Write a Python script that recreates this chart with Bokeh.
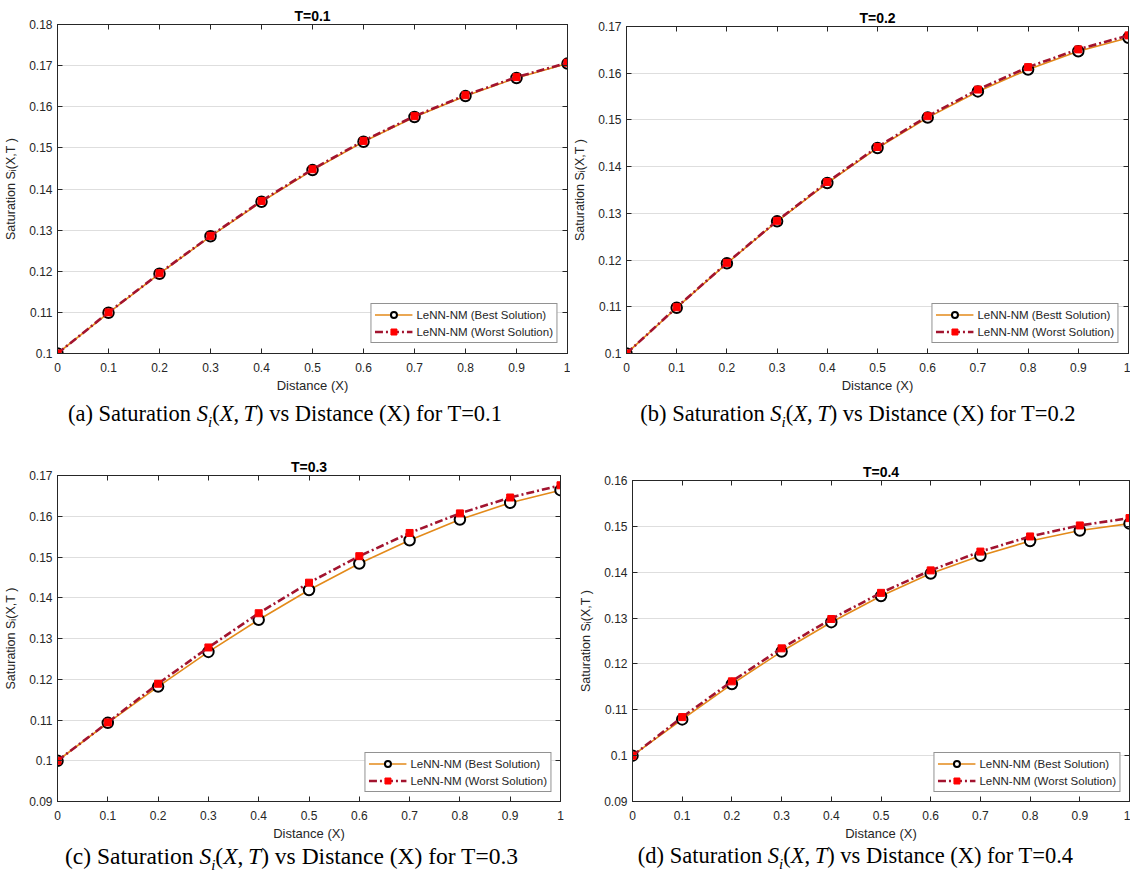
from bokeh.plotting import figure
from bokeh.models import Range1d, FixedTicker, PrintfTickFormatter, LinearAxis, Legend, LegendItem, Div
from bokeh.layouts import row, column
from bokeh.embed import file_html
from bokeh.resources import INLINE

# ---------------- data ----------------
distance = [0.0, 0.1, 0.2, 0.3, 0.4, 0.5, 0.6, 0.7, 0.8, 0.9, 1.0]
x_ticks = [0.0, 0.1, 0.2, 0.3, 0.4, 0.5, 0.6, 0.7, 0.8, 0.9, 1.0]

best_t01 = [0.1000, 0.1099, 0.1194, 0.1285, 0.1369, 0.1446, 0.1515, 0.1575, 0.1626, 0.1670, 0.1705]
worst_t01 = [0.1000, 0.1100, 0.1195, 0.1286, 0.1371, 0.1448, 0.1517, 0.1577, 0.1628, 0.1672, 0.1707]
best_t02 = [0.1000, 0.1098, 0.1193, 0.1283, 0.1365, 0.1440, 0.1505, 0.1561, 0.1608, 0.1647, 0.1676]
worst_t02 = [0.1000, 0.1099, 0.1194, 0.1284, 0.1367, 0.1442, 0.1508, 0.1565, 0.1613, 0.1651, 0.1681]
best_t03 = [0.1000, 0.1093, 0.1182, 0.1267, 0.1346, 0.1419, 0.1484, 0.1541, 0.1592, 0.1633, 0.1664]
worst_t03 = [0.1000, 0.1094, 0.1189, 0.1278, 0.1362, 0.1437, 0.1502, 0.1559, 0.1607, 0.1646, 0.1676]
best_t04 = [0.1000, 0.1079, 0.1156, 0.1227, 0.1291, 0.1348, 0.1397, 0.1436, 0.1468, 0.1491, 0.1506]
worst_t04 = [0.1000, 0.1084, 0.1162, 0.1234, 0.1298, 0.1355, 0.1404, 0.1445, 0.1478, 0.1502, 0.1518]

yticks_a = [0.10, 0.11, 0.12, 0.13, 0.14, 0.15, 0.16, 0.17, 0.18]
yticks_b = [0.10, 0.11, 0.12, 0.13, 0.14, 0.15, 0.16, 0.17]
yticks_c = [0.09, 0.10, 0.11, 0.12, 0.13, 0.14, 0.15, 0.16, 0.17]
yticks_d = [0.09, 0.10, 0.11, 0.12, 0.13, 0.14, 0.15, 0.16]

titles = ["T=0.1", "T=0.2", "T=0.3", "T=0.4"]
best_labels = ["LeNN-NM (Best Solution)", "LeNN-NM (Bestt Solution)",
               "LeNN-NM (Best Solution)", "LeNN-NM (Best Solution)"]
worst_label = "LeNN-NM (Worst Solution)"
x_label = "Distance (X)"
y_label = "Saturation S\u1d62(X,T )"
captions = [
    ("(a)", "T=0.1"), ("(b)", "T=0.2"), ("(c)", "T=0.3"), ("(d)", "T=0.4"),
]

# ---------------- style ----------------
ORANGE = "#E38A1A"
DARKRED = "#A2142F"
RED = "#FF0000"
AX = "#262626"
SANS = "Liberation Sans"


def style_axis(ax, ticks, show_labels):
    ax.ticker = FixedTicker(ticks=ticks)
    ax.formatter = PrintfTickFormatter(format="%g")
    ax.major_tick_in = 5
    ax.major_tick_out = 0
    ax.minor_tick_line_color = None
    ax.axis_line_color = AX
    ax.major_tick_line_color = AX
    if show_labels:
        ax.major_label_text_font = SANS
        ax.major_label_text_font_size = "12px"
        ax.major_label_text_color = AX
        ax.axis_label_text_font = SANS
        ax.axis_label_text_font_style = "normal"
        ax.axis_label_text_color = AX
    else:
        ax.major_label_text_font_size = "1px"
        ax.major_label_text_color = None
        ax.major_label_standoff = 0


def make_panel(title, best, worst, ylo, yhi, yticks, best_label,
               width, height, bl, br, bt, bb, legend_margin):
    p = figure(width=width, height=height, output_backend="svg", toolbar_location=None,
               x_range=Range1d(0, 1), y_range=Range1d(ylo, yhi),
               min_border_left=bl, min_border_right=br, min_border_top=bt, min_border_bottom=bb)
    p.title.text = title
    p.title.align = "center"
    p.title.text_font = SANS
    p.title.text_font_size = "14px"
    p.title.text_font_style = "bold"
    p.title.text_color = "#000000"
    p.title.standoff = 2
    p.outline_line_color = AX
    p.outline_line_alpha = 1.0
    p.background_fill_color = "white"
    p.border_fill_color = "white"

    p.xgrid.visible = False
    p.ygrid.ticker = FixedTicker(ticks=yticks)
    p.ygrid.grid_line_color = "#dedede"
    p.ygrid.grid_line_width = 1

    style_axis(p.xaxis[0], x_ticks, True)
    style_axis(p.yaxis[0], yticks, True)
    p.xaxis[0].axis_label = x_label
    p.xaxis[0].axis_label_text_font_size = "13px"
    p.xaxis[0].major_label_standoff = 9
    p.xaxis[0].axis_label_standoff = 3
    p.yaxis[0].axis_label = y_label
    p.yaxis[0].axis_label_text_font_size = "12.5px"
    p.yaxis[0].major_label_standoff = 5
    p.yaxis[0].axis_label_standoff = 8

    top = LinearAxis()
    style_axis(top, x_ticks, False)
    p.add_layout(top, "above")
    right = LinearAxis()
    style_axis(right, yticks, False)
    p.add_layout(right, "right")

    l1 = p.line(distance, best, line_color=ORANGE, line_width=1.6)
    c1 = p.scatter(distance, best, marker="circle", size=10.5, line_color="black",
                   line_width=2, fill_color="white")
    l2 = p.line(distance, worst, line_color=DARKRED, line_width=2.6, line_dash="8 3 2 3")
    s2 = p.scatter(distance, worst, marker="square", size=7, line_color=RED,
                   fill_color=RED)

    legend = Legend(items=[LegendItem(label=best_label, renderers=[l1, c1]),
                           LegendItem(label=worst_label, renderers=[l2, s2])],
                    location="bottom_right")
    legend.margin = legend_margin
    legend.padding = 3
    legend.spacing = 2
    legend.glyph_width = 38
    legend.glyph_height = 15
    legend.label_height = 15
    legend.label_standoff = 4
    legend.label_text_font = SANS
    legend.label_text_font_size = "11.5px"
    legend.label_text_color = AX
    legend.border_line_color = AX
    legend.border_line_width = 1
    legend.background_fill_color = "white"
    legend.background_fill_alpha = 1.0
    p.add_layout(legend)
    return p


def caption(tag, tval, width, height, pad_top, pad_left, fsize):
    html = (f'<div style="font-family: \'Liberation Serif\', serif; font-size: {fsize}px; '
            'line-height: 26px; color: #000; text-align: center; white-space: nowrap; '
            f'width: {width}px; padding-top: {pad_top}px; padding-left: {pad_left}px; box-sizing: border-box;">'
            f'{tag} Saturation <i>S<sub style="font-size:15px">i</sub></i>(<i>X</i>,&thinsp;<i>T</i>) '
            f'vs Distance (X) for {tval}</div>')
    return Div(text=html, width=width, height=height, margin=(0, 0, 0, 0))


pa = make_panel(titles[0], best_t01, worst_t01, 0.10, 0.18, yticks_a, best_labels[0],
                570, 395, 57, 3, 24, 41, 10)
pb = make_panel(titles[1], best_t02, worst_t02, 0.10, 0.17, yticks_b, best_labels[1],
                560, 395, 56, 2, 26, 42, 10)
pc = make_panel(titles[2], best_t03, worst_t03, 0.09, 0.17, yticks_c, best_labels[2],
                575, 393, 57, 15, 25, 41, 9)
pd = make_panel(titles[3], best_t04, worst_t04, 0.09, 0.16, yticks_d, best_labels[3],
                555, 393, 57, 1, 30, 39, 9)

ca = caption(*captions[0], 570, 55, 6, 0, 22.5)
cb = caption(*captions[1], 560, 55, 6, 16, 22.5)
cc = caption(*captions[2], 575, 33, 0, 8, 23.5)
cd = caption(*captions[3], 555, 33, 0, 6, 22.5)

layout = column(
    row(column(pa, ca, spacing=0), column(pb, cb, spacing=0), spacing=0),
    row(column(pc, cc, spacing=0), column(pd, cd, spacing=0), spacing=0),
    spacing=0,
)

open("out.html", "w").write(file_html(layout, INLINE, "Saturation"))
